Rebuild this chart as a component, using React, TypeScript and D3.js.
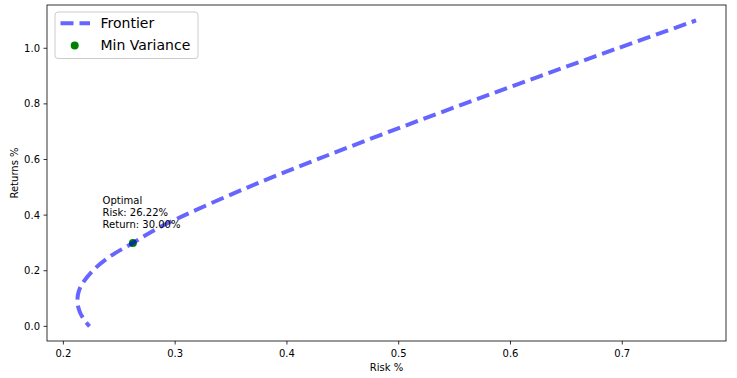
import React from "react";
import * as d3 from "d3";

// Efficient frontier: risk (x) and return (y)
const frontierRisk = [0.2234, 0.2184, 0.2149, 0.2130, 0.2126, 0.2137, 0.2164, 0.2262, 0.2412, 0.2622, 0.2832, 0.3086, 0.3651, 0.4268, 0.4916, 0.5584, 0.6266, 0.6959, 0.7660];
const frontierReturn = [0.0, 0.025, 0.05, 0.075, 0.1, 0.125, 0.15, 0.2, 0.25, 0.3, 0.35, 0.4, 0.5, 0.6, 0.7, 0.8, 0.9, 1.0, 1.1];
const minVarRisk = [0.2622];
const minVarReturn = [0.30];
const xTicks = [0.2, 0.3, 0.4, 0.5, 0.6, 0.7];
const yTicks = [0.0, 0.2, 0.4, 0.6, 0.8, 1.0];
const annotationLines = ["Optimal", "Risk: 26.22%", "Return: 30.00%"];

const W = 737, H = 378;
const L = 47, R = 726, T = 5, B = 341;
const FONT = "'DejaVu Sans', sans-serif";

export default function App() {
  const x = d3.scaleLinear().domain([0.18535, 0.7928]).range([L, R]);
  const y = d3.scaleLinear().domain([-0.0527, 1.1556]).range([B, T]);
  const pts = frontierRisk.map((r, i) => [r, frontierReturn[i]] as [number, number]);
  const line = d3.line<[number, number]>().x(d => x(d[0])).y(d => y(d[1])).curve(d3.curveCatmullRom.alpha(0.5));
  const lineColor = "rgba(0,0,255,0.6)";
  // approximate path length up to the min-variance point, so a dash covers it
  let len = 0;
  const idx = frontierReturn.indexOf(minVarReturn[0]);
  for (let i = 1; i <= idx; i++) {
    len += Math.hypot(x(pts[i][0]) - x(pts[i - 1][0]), y(pts[i][1]) - y(pts[i - 1][1]));
  }
  const period = 19;
  const offset = (((6.5 - len) % period) + period) % period;
  return (
    <svg width={W} height={H} style={{ position: "absolute", left: 0, top: 0, background: "#fff" }} fontFamily={FONT}>
      <rect x={0} y={0} width={W} height={H} fill="#fff" />
      {minVarRisk.map((r, i) => (
        <circle key={i} cx={x(r)} cy={y(minVarReturn[i])} r={4} fill="green" />
      ))}
      <path d={line(pts) || ""} fill="none" stroke={lineColor} strokeWidth={4} strokeDasharray="13,6" strokeDashoffset={offset} />
      {annotationLines.map((t, i) => (
        <text key={i} x={x(minVarRisk[0]) - 30.3} y={y(minVarReturn[0]) - 38.5 + i * 11.7} fontSize={10} fill="#000">{t}</text>
      ))}
      <rect x={L} y={T} width={R - L} height={B - T} fill="none" stroke="#000" strokeWidth={0.8} />
      {xTicks.map(t => (
        <g key={t}>
          <line x1={x(t)} x2={x(t)} y1={B} y2={B + 3.5} stroke="#000" strokeWidth={0.8} />
          <text x={x(t)} y={B + 16} fontSize={10} textAnchor="middle" fill="#000">{t.toFixed(1)}</text>
        </g>
      ))}
      {yTicks.map(t => (
        <g key={t}>
          <line x1={L - 3.5} x2={L} y1={y(t)} y2={y(t)} stroke="#000" strokeWidth={0.8} />
          <text x={L - 7} y={y(t) + 3.6} fontSize={10} textAnchor="end" fill="#000">{t.toFixed(1)}</text>
        </g>
      ))}
      <text x={(L + R) / 2} y={371} fontSize={10} textAnchor="middle" fill="#000">Risk %</text>
      <text transform={`translate(18,${(T + B) / 2}) rotate(-90)`} fontSize={10} textAnchor="middle" fill="#000">Returns %</text>
      <g>
        <rect x={55} y={12} width={143} height={46.5} rx={3} fill="#fff" fillOpacity={0.8} stroke="#ccc" strokeWidth={1} />
        <line x1={60.5} x2={90} y1={23.3} y2={23.3} stroke={lineColor} strokeWidth={4} strokeDasharray="13,6" />
        <text x={100.5} y={28.3} fontSize={14} fill="#000">Frontier</text>
        <circle cx={74.7} cy={45.5} r={4} fill="green" />
        <text x={100.5} y={50.3} fontSize={14} fill="#000">Min Variance</text>
      </g>
    </svg>
  );
}
